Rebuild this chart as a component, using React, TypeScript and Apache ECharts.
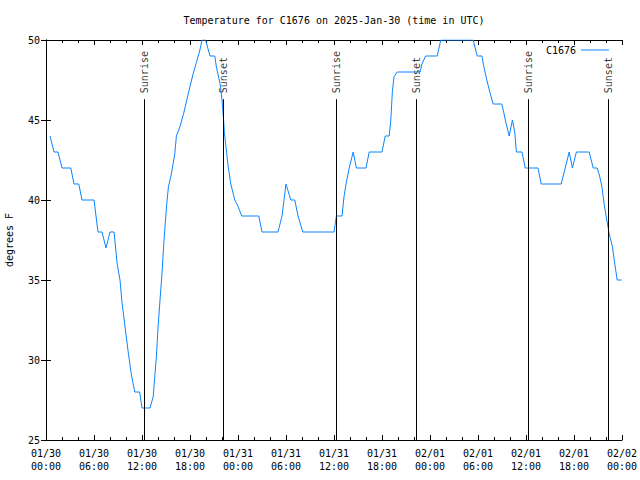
import React, { useEffect, useRef } from "react";
import * as echarts from "echarts";

const TITLE = "Temperature for C1676 on 2025-Jan-30 (time in UTC)";
const SERIES_NAME = "C1676";
const Y_NAME = "degrees F";
const DAY_LABELS = ["01/30", "01/31", "02/01", "02/02"];

// [hours since 2025-01-30 00:00 UTC, degrees F]
const readings: [number, number][] = [
  [0.5, 44], [1.0, 43], [1.5, 43], [2.0, 42], [3.1, 42], [3.5, 41], [4.1, 41], [4.5, 40],
  [6.0, 40], [6.5, 38], [7.0, 38], [7.5, 37], [8.0, 38], [8.5, 38], [8.9, 36], [9.25, 35],
  [9.5, 33.6], [9.9, 32], [10.3, 30.4], [10.7, 29], [11.1, 28], [11.7, 28], [12.0, 27], [13.0, 27],
  [13.4, 27.7], [13.6, 29], [13.8, 30.2], [14.0, 32], [14.25, 33.75], [14.5, 35.4], [14.7, 37.1],
  [14.9, 38.5], [15.1, 39.8], [15.3, 40.8], [15.7, 41.7], [16.1, 42.9], [16.3, 44], [16.75, 44.6],
  [17.2, 45.4], [17.6, 46.25], [18.0, 47.1], [18.4, 47.9], [18.8, 48.6], [19.25, 49.4], [19.5, 50],
  [19.95, 50], [20.5, 49], [21.1, 49], [21.3, 48.3], [21.75, 47.3], [22.0, 46.25], [22.2, 45],
  [22.3, 44.2], [22.5, 43.3], [22.8, 42], [23.1, 41], [23.4, 40.4], [23.6, 40], [24.0, 39.6],
  [24.46, 39], [26.6, 39], [27.0, 38], [29.0, 38], [29.5, 39], [30.0, 41], [30.3, 40.5], [30.6, 40],
  [31.1, 40], [31.5, 39], [32.1, 38], [36.0, 38], [36.3, 39], [37.0, 39], [37.25, 40.2], [37.5, 41],
  [37.9, 42], [38.4, 43], [38.8, 42], [40.0, 42], [40.4, 43], [42.0, 43], [42.4, 44], [42.9, 44],
  [43.1, 45], [43.3, 46.8], [43.5, 47.7], [43.9, 48], [46.75, 48], [47.0, 48.5], [47.45, 49],
  [48.9, 49], [49.35, 50], [53.4, 50], [53.9, 49], [54.5, 49], [54.7, 48.4], [55.1, 47.5],
  [55.5, 46.7], [55.9, 46], [56.97, 46], [57.25, 45.4], [57.5, 44.8], [57.9, 44], [58.3, 45],
  [58.6, 44.2], [58.8, 43], [59.5, 43], [59.9, 42], [61.5, 42], [61.9, 41], [64.4, 41], [64.9, 42],
  [65.4, 43], [65.8, 42], [66.3, 43], [67.9, 43], [68.4, 42], [68.9, 42], [69.2, 41.5], [69.5, 40.8],
  [69.75, 39.8], [70.1, 38.75], [70.4, 37.9], [70.8, 37.1], [71.1, 36], [71.4, 35], [71.95, 35],
];

const sunriseHours = [12.3, 36.25, 60.25];
const sunsetHours = [22.2, 46.3, 70.3];
const SUN_LINE_TOP = 46.3;

const X_MIN = 0;
const X_MAX = 72;
const X_STEP = 6;
const Y_MIN = 25;
const Y_MAX = 50;
const Y_STEP = 5;

const FONT = "'DejaVu Sans Mono', 'Liberation Mono', monospace";
const LINE_COLOR = "#0a84ff";

export default function App() {
  const ref = useRef<HTMLDivElement>(null);
  useEffect(() => {
    document.body.style.margin = "0";
    if (!ref.current) return;
    const chart = echarts.init(ref.current, undefined, { renderer: "svg" });
    const sunEvents = [
      ...sunriseHours.map((h) => [h, SUN_LINE_TOP, "Sunrise"]),
      ...sunsetHours.map((h) => [h, SUN_LINE_TOP, "Sunset"]),
    ];
    const xLabel = (v: number) => {
      const day = Math.floor(v / 24);
      const hr = Math.round(v - day * 24);
      return `${DAY_LABELS[day]}\n${String(hr).padStart(2, "0")}:00`;
    };
    const tickBase = {
      axisLine: { show: true, lineStyle: { color: "#000", width: 1 } },
      splitLine: { show: false },
    };
    chart.setOption({
      animation: false,
      backgroundColor: "#fff",
      title: {
        text: TITLE,
        left: 329,
        top: 10,
        textAlign: "center",
        textStyle: { fontFamily: FONT, fontSize: 10, fontWeight: "normal", color: "#000" },
      },
      legend: {
        data: [SERIES_NAME],
        right: 26,
        top: 40,
        align: "right",
        icon: "rect",
        itemWidth: 28,
        itemHeight: 1,
        itemGap: 6,
        textStyle: { fontFamily: FONT, fontSize: 10, color: "#000", padding: [0, 0, 0, 2] },
      },
      grid: {
        left: 46,
        right: 18,
        top: 40,
        bottom: 40,
        containLabel: false,
        outerBoundsMode: "none",
      },
      xAxis: [
        {
          type: "value",
          min: X_MIN,
          max: X_MAX,
          interval: X_STEP,
          position: "bottom",
          ...tickBase,
          axisTick: { show: true, inside: true, length: 5, lineStyle: { color: "#000" } },
          minorTick: { show: true, splitNumber: 3, length: 3, lineStyle: { color: "#000" } },
          minorSplitLine: { show: false },
          axisLabel: {
            formatter: xLabel,
            fontFamily: FONT,
            fontSize: 10,
            color: "#000",
            margin: 7,
            lineHeight: 13,
            showMinLabel: true,
            showMaxLabel: true,
          },
        },
        {
          type: "value",
          min: X_MIN,
          max: X_MAX,
          interval: X_STEP,
          position: "top",
          ...tickBase,
          axisTick: { show: true, inside: true, length: 5, lineStyle: { color: "#000" } },
          minorTick: { show: true, splitNumber: 3, length: 3, lineStyle: { color: "#000" } },
          axisLabel: { show: false },
        },
      ],
      yAxis: [
        {
          type: "value",
          min: Y_MIN,
          max: Y_MAX,
          interval: Y_STEP,
          position: "left",
          name: Y_NAME,
          nameLocation: "middle",
          nameGap: 32,
          nameRotate: 90,
          nameTextStyle: { fontFamily: FONT, fontSize: 10, color: "#000" },
          ...tickBase,
          axisTick: { show: true, inside: true, length: 5, lineStyle: { color: "#000" } },
          axisLabel: { fontFamily: FONT, fontSize: 10, color: "#000", margin: 6 },
        },
        {
          type: "value",
          min: Y_MIN,
          max: Y_MAX,
          interval: Y_STEP,
          position: "right",
          ...tickBase,
          axisTick: { show: true, inside: true, length: 5, lineStyle: { color: "#000" } },
          axisLabel: { show: false },
        },
      ],
      series: [
        {
          name: SERIES_NAME,
          type: "line",
          data: readings,
          xAxisIndex: 0,
          yAxisIndex: 0,
          symbol: "none",
          showSymbol: false,
          clip: true,
          lineStyle: { color: LINE_COLOR, width: 1 },
          itemStyle: { color: LINE_COLOR },
          z: 3,
        },
        {
          name: "sun",
          type: "scatter",
          data: sunEvents,
          xAxisIndex: 0,
          yAxisIndex: 0,
          symbolSize: 0,
          itemStyle: { color: "rgba(0,0,0,0)" },
          silent: true,
          z: 2,
          label: {
            show: true,
            position: "top",
            distance: 6,
            rotate: 90,
            align: "left",
            verticalAlign: "middle",
            formatter: (p: any) => p.data[2],
            fontFamily: FONT,
            fontSize: 10,
            color: "#000",
          },
          markLine: {
            silent: true,
            symbol: ["none", "none"],
            label: { show: false },
            lineStyle: { color: "#000", width: 1, type: "solid" },
            data: [...sunriseHours, ...sunsetHours].map((h) => [
              { coord: [h, Y_MIN] },
              { coord: [h, SUN_LINE_TOP] },
            ]),
          },
        },
      ],
    });
    return () => chart.dispose();
  }, []);
  return <div ref={ref} style={{ width: 640, height: 480 }} />;
}
